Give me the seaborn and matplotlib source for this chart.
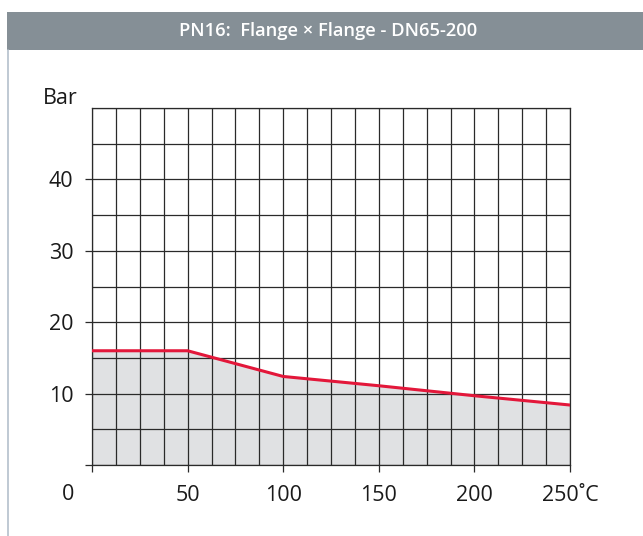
import numpy as np
import pandas as pd
import matplotlib
matplotlib.use("Agg")
import matplotlib.pyplot as plt
from matplotlib.patches import Rectangle
from matplotlib.lines import Line2D
import seaborn as sns

temps = [0, 50, 100, 150, 200, 250]
pressure = [16, 16, 12.4, 11.1, 9.7, 8.4]
x_tick_values = [0, 50, 100, 150, 200, 250]
x_tick_labels = ["", "50", "100", "150", "200", "250˚C"]
y_tick_values = [0, 10, 20, 30, 40]
y_tick_labels = ["", "10", "20", "30", "40"]
title = "PN16:  Flange × Flange - DN65-200"
y_unit = "Bar"
origin_label = "0"

sns.set_theme(style="white")
plt.rcParams['font.family'] = ['Open Sans', 'DejaVu Sans']

W, H = 643, 536
fig = plt.figure(figsize=(W / 100, H / 100), dpi=100)
ax = fig.add_axes([92 / W, (H - 465) / H, (570 - 92) / W, (465 - 108) / H])

df = pd.DataFrame({"temp": temps, "bar": pressure})
ax.fill_between(df["temp"], 0, df["bar"], color="#e0e1e3", zorder=0, lw=0)
sns.lineplot(data=df, x="temp", y="bar", ax=ax, color="#e3173a", lw=2.2, zorder=5)

ax.set_xlim(0, 250)
ax.set_ylim(0, 50)
ax.set_xticks(x_tick_values)
ax.set_xticklabels(x_tick_labels)
ax.set_yticks(y_tick_values)
ax.set_yticklabels(y_tick_labels)
ax.set_xticks(np.arange(0, 250.1, 12.5), minor=True)
ax.set_yticks(np.arange(0, 50.1, 5), minor=True)
ax.grid(True, which="both", color="#2a2a2a", lw=0.9, zorder=1)
ax.set_axisbelow(True)
for s in ax.spines.values():
    s.set_visible(True)
    s.set_color("#2a2a2a")
    s.set_linewidth(0.9)
ax.tick_params(axis="both", which="major", direction="out", length=5, width=0.9,
               color="#2a2a2a", labelsize=15.5, labelcolor="#1a1a1a")
ax.tick_params(axis="x", which="major", pad=9.5, bottom=True)
ax.tick_params(axis="y", which="major", pad=8.5, left=True)
ax.tick_params(which="minor", length=0)
ax.set_xlabel("")
ax.set_ylabel("")

fig.text(68 / W, 1 - 494 / H, origin_label, ha="center", va="center", fontsize=15.5, color="#1a1a1a")
fig.text(43 / W, 1 - 99 / H, y_unit, ha="left", va="center", fontsize=15.5, color="#1a1a1a")

# title bar
fig.patches.append(Rectangle((7 / W, 1 - 50 / H), 1 - 7 / W, 38 / H, transform=fig.transFigure,
                             facecolor="#858f96", edgecolor="none", zorder=0))
fig.lines.append(Line2D([7.5 / W, 7.5 / W], [0, 1 - 50 / H], transform=fig.transFigure,
                        color="#b4c0cc", lw=1.2))
fig.text(328 / W, 1 - 31.5 / H, title, ha="center", va="center", fontsize=13.2,
         color="white", fontweight="semibold")

fig.savefig("out.png", dpi=100)
